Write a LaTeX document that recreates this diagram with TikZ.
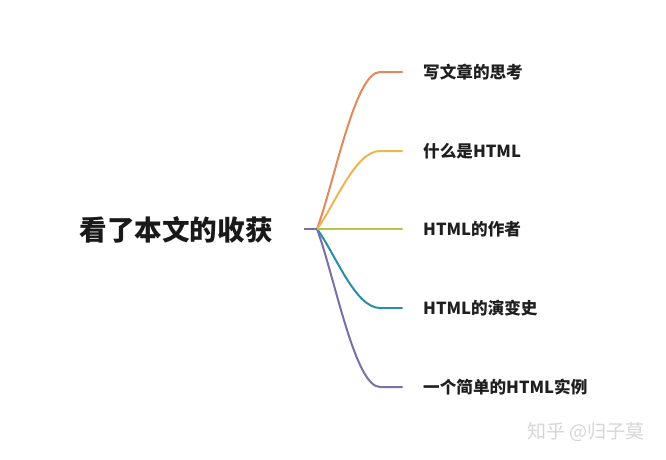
\documentclass[tikz,border=0pt]{standalone}
\usepackage{fontspec}
\newfontfamily\cjk{Noto Sans CJK SC}
\definecolor{cA}{HTML}{E3875E}
\definecolor{cB}{HTML}{EDB44F}
\definecolor{cC}{HTML}{BBC24A}
\definecolor{cD}{HTML}{2A8FA3}
\definecolor{cE}{HTML}{7771A8}
\definecolor{wm}{HTML}{D6D6D6}
\tikzset{
  rootlabel/.style={font=\cjk\bfseries\fontsize{27.6}{30}\selectfont, text=black!90, inner sep=0pt},
  leaflabel/.style={font=\cjk\bfseries\fontsize{16.6}{20}\selectfont, text=black!88, anchor=west, inner xsep=0pt},
  branch/.style={line width=2pt, line cap=round, shorten >=21pt},
}
\begin{document}
\begin{tikzpicture}[x=1pt,y=-1pt]
\useasboundingbox (0,0) rectangle (666,460);
\node[rootlabel] (root) at (176,230) {看了本文的收获};
\coordinate (stub) at (304,229);
\coordinate (o) at (317,229);
\node[leaflabel] (l1) at (423,72) {写文章的思考};
\node[leaflabel] (l2) at (423,151) {什么是HTML};
\node[leaflabel] (l3) at (423,229) {HTML的作者};
\node[leaflabel] (l4) at (423,308) {HTML的演变史};
\node[leaflabel] (l5) at (423,387) {一个简单的HTML实例};
\draw[branch, cA] (o) .. controls (335,180) and (355,72) .. (380,72) -- (l1.west);
\draw[branch, cB] (o) .. controls (335,205) and (355,151) .. (380,151) -- (l2.west);
\draw[branch, cD] (o) .. controls (335,253) and (355,308) .. (380,308) -- (l4.west);
\draw[branch, cE] (o) .. controls (335,278) and (355,387) .. (380,387) -- (l5.west);
\draw[branch, cC] (o) -- (l3.west);
\draw[line width=2pt, cE] (stub) -- (o);
\node[font=\cjk\fontsize{19}{22}\selectfont, text=wm, anchor=west, inner xsep=0pt] (wmk) at (527,432) {知乎 @归子莫};
\end{tikzpicture}
\end{document}
